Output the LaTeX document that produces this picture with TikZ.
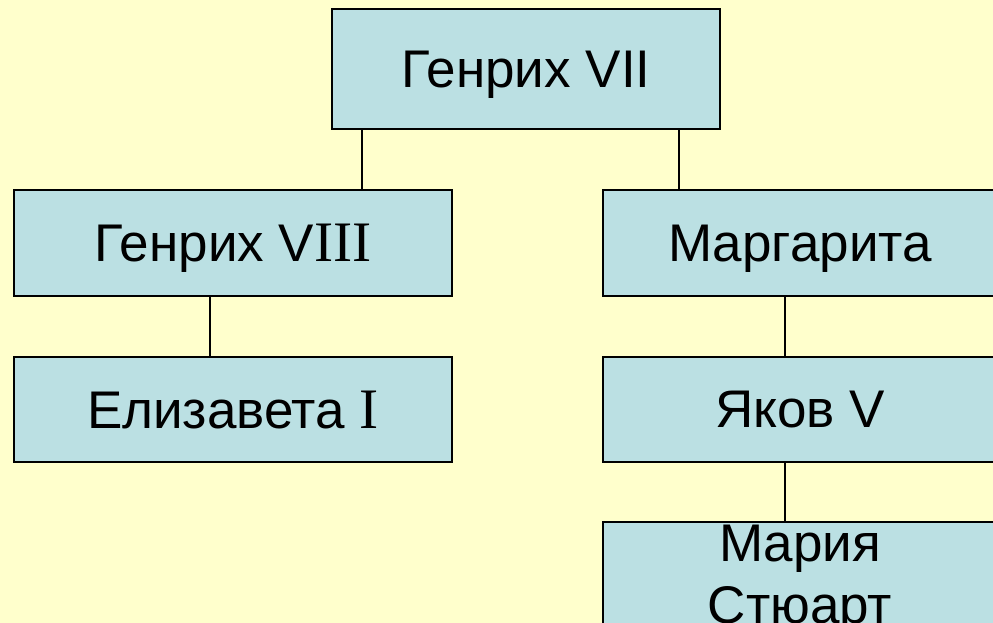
\documentclass[tikz,border=0pt]{standalone}
\usepackage{fontspec}
\setmainfont{Liberation Sans}
\newfontfamily\romI{Liberation Serif}[Scale=1.08]
\definecolor{bgyellow}{HTML}{FFFFCC}
\definecolor{boxblue}{HTML}{BBE0E3}
\newcommand{\RI}{{\romI I}}
\begin{document}
\begin{tikzpicture}[x=1pt,y=-1pt,
  fambox/.style={draw=black, line width=1.5pt, fill=boxblue, inner sep=0pt,
    font=\fontsize{53}{62}\selectfont, align=center, text depth=0pt},
  link/.style={draw=black, line width=1.5pt}]
\useasboundingbox (0,0) rectangle (993,623);
\fill[bgyellow] (0,0) rectangle (993,623);
\begin{scope}
\clip (0,0) rectangle (993,623);
\node[fambox, minimum width=388pt, minimum height=120pt] (h7) at (526,69) {Генрих VII};
\node[fambox, minimum width=438pt, minimum height=106pt] (h8) at (233,243) {Генрих V\RI\RI\RI};
\node[fambox, minimum width=438pt, minimum height=105pt] (el) at (233,409.5) {Елизавета \RI};
\node[fambox, minimum width=394pt, minimum height=106pt] (mg) at (800,243) {Маргарита};
\node[fambox, minimum width=394pt, minimum height=105pt] (jk) at (800,409.5) {Яков V};
\node[fambox, minimum width=394pt, minimum height=105pt] (ms) at (800,574.5) {Мария\\Стюарт};
\coordinate (xa) at (362,0);
\coordinate (xb) at (679,0);
\coordinate (xc) at (210,0);
\coordinate (xd) at (785,0);
\draw[link] (xa |- h7.south) -- (xa |- h8.north);
\draw[link] (xb |- h7.south) -- (xb |- mg.north);
\draw[link] (xc |- h8.south) -- (xc |- el.north);
\draw[link] (xd |- mg.south) -- (xd |- jk.north);
\draw[link] (xd |- jk.south) -- (xd |- ms.north);
\end{scope}
\end{tikzpicture}
\end{document}
